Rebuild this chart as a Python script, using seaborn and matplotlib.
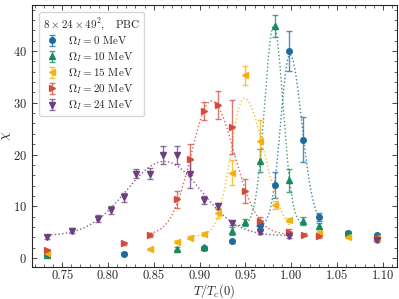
import matplotlib
matplotlib.use('Agg')

import numpy as np
import pandas as pd
import seaborn as sns
import matplotlib.pyplot as plt
from matplotlib.ticker import MultipleLocator, FormatStrFormatter

# Omega_I = 0 MeV
t_0 = [0.734, 0.817, 0.905, 0.935, 0.966, 0.982, 0.998, 1.013, 1.030, 1.062, 1.094]
chi_0 = [0.5, 0.85, 1.9, 3.2, 6.3, 14.1, 40.0, 22.9, 7.9, 4.8, 4.4]
err_0 = [0.2, 0.2, 0.3, 0.3, 0.6, 2.6, 3.8, 4.3, 0.7, 0.3, 0.3]

# Omega_I = 10 MeV
t_10 = [0.734, 0.875, 0.905, 0.935, 0.950, 0.966, 0.982, 0.998, 1.013, 1.030, 1.062, 1.094]
chi_10 = [0.6, 1.8, 2.1, 5.2, 6.9, 18.8, 44.8, 15.0, 7.2, 6.1, 4.9, 4.2]
err_10 = [0.2, 0.3, 0.3, 0.8, 0.7, 2.2, 2.1, 2.2, 0.8, 0.6, 0.3, 0.3]

# Omega_I = 15 MeV
t_15 = [0.734, 0.846, 0.875, 0.890, 0.905, 0.920, 0.935, 0.950, 0.966, 0.982, 0.998, 1.030, 1.062, 1.094]
chi_15 = [0.9, 1.8, 3.1, 3.9, 4.7, 8.7, 16.5, 35.3, 22.6, 10.2, 7.3, 4.8, 4.1, 3.8]
err_15 = [0.2, 0.2, 0.3, 0.3, 0.4, 1.0, 2.4, 1.9, 4.0, 0.8, 0.4, 0.5, 0.3, 0.3]

# Omega_I = 20 MeV
t_20 = [0.734, 0.817, 0.846, 0.875, 0.890, 0.905, 0.920, 0.935, 0.950, 0.966, 0.998, 1.014, 1.030, 1.094]
chi_20 = [1.5, 2.8, 4.5, 11.3, 19.1, 28.4, 29.5, 25.3, 12.9, 7.1, 5.0, 4.5, 4.2, 3.9]
err_20 = [0.2, 0.3, 0.4, 1.7, 3.0, 1.7, 2.7, 5.2, 2.3, 0.8, 0.5, 0.3, 0.3, 0.3]

# Omega_I = 24 MeV
t_24 = [0.734, 0.761, 0.789, 0.803, 0.817, 0.831, 0.846, 0.860, 0.875, 0.890, 0.905, 0.920, 0.935, 0.966, 0.998, 1.094]
chi_24 = [4.1, 5.3, 7.6, 9.3, 11.7, 16.3, 16.3, 19.9, 19.9, 16.3, 11.2, 10.0, 6.7, 5.0, 4.2, 3.4]
err_24 = [0.4, 0.4, 0.7, 0.8, 0.9, 0.9, 1.0, 1.7, 1.7, 2.7, 0.8, 0.6, 0.4, 0.3, 0.3, 0.3]

labels = [r'$\Omega_I = 0$ MeV', r'$\Omega_I = 10$ MeV', r'$\Omega_I = 15$ MeV',
          r'$\Omega_I = 20$ MeV', r'$\Omega_I = 24$ MeV']
colors = ['#1d6a9e', '#1a8a5c', '#f4b10e', '#d24c3c', '#6c3f7e']
markers = ['o', '^', '<', '>', 'v']
fit_ranges = [(0.962, 1.030), (0.935, 1.013), (0.890, 0.998), (0.846, 0.998), (0.734, 0.998)]

series = [(t_0, chi_0, err_0), (t_10, chi_10, err_10), (t_15, chi_15, err_15),
          (t_20, chi_20, err_20), (t_24, chi_24, err_24)]


def peak_fit(t, chi, err):
    # split gaussian + constant, grid search on (t0, wl, wr), linear lsq for (b, A)
    w = 1.0 / err
    i = np.argmax(chi)
    best = None
    for t0 in np.linspace(t[i] - 0.012, t[i] + 0.012, 49):
        for wl in np.linspace(0.004, 0.07, 45):
            wr = np.linspace(0.004, 0.07, 45)[:, None]
            d = t[None, :] - t0
            g = np.where(d < 0, np.exp(-d**2 / (2 * wl**2)), np.exp(-d**2 / (2 * wr**2)))
            sw = np.sum(w**2)
            sg = np.sum(w**2 * g, axis=1)
            sgg = np.sum(w**2 * g * g, axis=1)
            sy = np.sum(w**2 * chi)
            sgy = np.sum(w**2 * g * chi, axis=1)
            det = sw * sgg - sg**2
            det = np.where(np.abs(det) < 1e-12, 1e-12, det)
            b = (sgg * sy - sg * sgy) / det
            A = (sw * sgy - sg * sy) / det
            res = np.sum((w**2) * (chi - b[:, None] - A[:, None] * g)**2, axis=1)
            k = np.argmin(res)
            if best is None or res[k] < best[0]:
                best = (res[k], t0, wl, wr[k, 0], b[k], A[k])
    return best[1:]


sns.set_style('ticks')
plt.rcParams['font.family'] = 'serif'
plt.rcParams['font.serif'] = ['cmr10', 'DejaVu Serif']
plt.rcParams['mathtext.fontset'] = 'cm'
plt.rcParams['axes.formatter.use_mathtext'] = True
plt.rcParams['axes.unicode_minus'] = False

fig = plt.figure(figsize=(3.99, 2.99), dpi=100)
ax = fig.add_axes([0.080, 0.108, 0.914, 0.875])

for (t, chi, err), lab, c, m, (lo, hi) in zip(series, labels, colors, markers, fit_ranges):
    t = np.array(t)
    chi = np.array(chi)
    err = np.array(err)
    sel = (t >= lo - 1e-6) & (t <= hi + 1e-6)
    t0, wl, wr, b, A = peak_fit(t[sel], chi[sel], err[sel])
    tt = np.linspace(lo, hi, 300)
    d = tt - t0
    yy = b + A * np.where(d < 0, np.exp(-d**2 / (2 * wl**2)), np.exp(-d**2 / (2 * wr**2)))
    fit = pd.DataFrame({'T': tt, 'chi': yy})
    sns.lineplot(data=fit, x='T', y='chi', ax=ax, color=c, linestyle=':', linewidth=1.0, alpha=0.85)
    eb = ax.errorbar(t, chi, yerr=err, fmt=m, color=c, ms=4, capsize=2.5, elinewidth=1.0,
                     capthick=1.0, ecolor=c, label=lab)
    for art in eb[1] + eb[2]:
        art.set_alpha(0.75)

ax.set_xlim(0.717, 1.115)
ax.set_ylim(-1.7, 48.9)
ax.xaxis.set_major_locator(MultipleLocator(0.05))
ax.xaxis.set_minor_locator(MultipleLocator(0.01))
ax.yaxis.set_major_locator(MultipleLocator(10))
ax.yaxis.set_minor_locator(MultipleLocator(2))
ax.xaxis.set_major_formatter(FormatStrFormatter('%.2f'))
ax.tick_params(which='both', direction='in', top=True, right=True, labelsize=9)
ax.tick_params(which='major', length=3.5, width=0.6)
ax.tick_params(which='minor', length=2, width=0.5)
ax.tick_params(axis='x', which='major', pad=2.5)
for s in ax.spines.values():
    s.set_linewidth(0.8)

ax.set_xlabel(r'$T/T_c(0)$', fontsize=9)
ax.set_ylabel(r'$\chi$', fontsize=10)
ax.xaxis.set_label_coords(0.5, -0.06)
ax.yaxis.set_label_coords(-0.052, 0.5)

leg = ax.legend(loc='upper left', title=r'$8\times24\times49^2$,   PBC', fontsize=8,
                title_fontsize=8, frameon=True, borderpad=0.35, handletextpad=0.7,
                labelspacing=0.2, handlelength=1.5, bbox_to_anchor=(0.005, 0.995))
leg._legend_box.align = 'left'

plt.savefig('out.png', dpi=100)
plt.close()
